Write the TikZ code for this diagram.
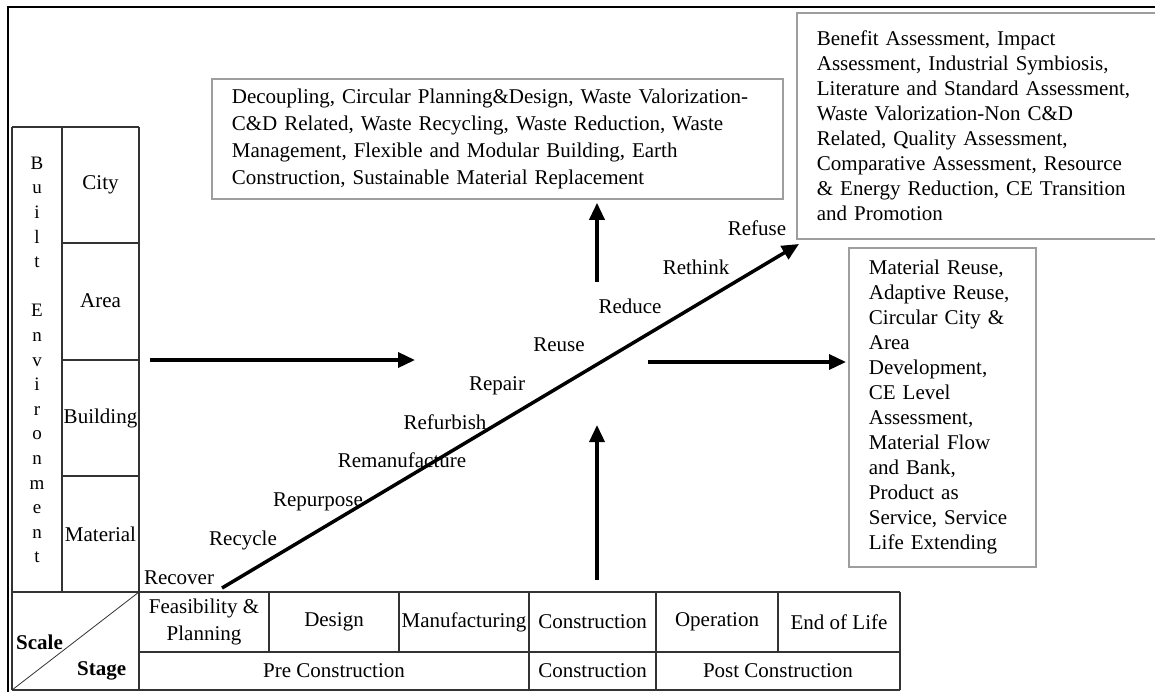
\documentclass[tikz,border=0pt]{standalone}
\usepackage{fontspec}
\setmainfont{Liberation Serif}
\usetikzlibrary{arrows.meta}
\begin{document}
\begin{tikzpicture}[x=1pt,y=-1pt,
  every node/.style={font=\fontsize{21}{25}\selectfont, inner sep=0pt},
  tline/.style={draw=black!80, line width=1.3pt},
  gbox/.style={draw=black!38, line width=1.8pt, fill=white, align=left, inner xsep=20pt, anchor=north west},
  bigarrow/.style={line width=3.5pt, -{Triangle[length=17pt,width=15pt]}},
  rlab/.style={anchor=base},
  cell/.style={anchor=center, align=center},
  bold/.style={font=\fontsize{21}{25}\selectfont\bfseries, anchor=base west}
]
\useasboundingbox (0,0) rectangle (1155,691);
\clip (0,0) rectangle (1155,691);
\fill[white] (0,0) rectangle (1155,691);
% outer frame
\draw[line width=2.5pt] (8,700) -- (8,7) -- (1170,7);

% left table
\draw[tline] (12,127) -- (139,127);
\draw[tline] (12,127) -- (12,690);
\draw[tline] (62,127) -- (62,592);
\draw[tline] (139,127) -- (139,690);
\draw[tline] (62,243) -- (139,243);
\draw[tline] (62,360) -- (139,360);
\draw[tline] (62,476) -- (139,476);
% bottom table
\draw[tline] (12,592) -- (900,592);
\draw[tline] (139,652) -- (900,652);
\draw[tline] (12,690) -- (900,690);
\draw[tline] (269,592) -- (269,652);
\draw[tline] (399,592) -- (399,652);
\draw[tline] (529,592) -- (529,690);
\draw[tline] (656,592) -- (656,690);
\draw[tline] (778,592) -- (778,652);
\draw[tline] (900,592) -- (900,690);
\draw[draw=black!80, line width=0.8pt] (12,690) -- (139,592);

% left table texts
\node[cell, font=\fontsize{19}{24.6}\selectfont] (built) at (37,360)
  {B\\u\\i\\l\\t\\\mbox{}\\E\\n\\v\\i\\r\\o\\n\\m\\e\\n\\t};
\node[cell] (city) at (100.5,185) {City};
\node[cell] (area) at (100.5,301) {Area};
\node[cell] (bldg) at (100.5,418) {Building};
\node[cell] (matl) at (100.5,534) {Material};
\node[bold] (scale) at (16,649) {Scale};
\node[bold] (stage) at (77,675) {Stage};

% bottom table texts
\node[cell, font=\fontsize{21}{27}\selectfont] (feas) at (204,622) {Feasibility \&\\Planning};
\node[cell] (design) at (334,622) {Design};
\node[cell] (manu) at (464,622) {Manufacturing};
\node[cell] (constr) at (592.5,622) {Construction};
\node[cell] (oper) at (717,622) {Operation};
\node[cell] (eol) at (839,622) {End of Life};
\node[cell] (pre) at (334,671) {Pre Construction};
\node[cell] (constr2) at (592.5,671) {Construction};
\node[cell] (post) at (778,671) {Post Construction};

% boxes
\node[gbox, font=\fontsize{21}{27}\selectfont, text width=531pt, minimum height=120pt] (dec) at (211,78)
  {Decoupling, Circular Planning\&Design, Waste Valorization-\\
   C\&D Related, Waste Recycling, Waste Reduction, Waste\\
   Management, Flexible and Modular Building, Earth\\
   Construction, Sustainable Material Replacement};
\node[gbox, text width=339pt, minimum height=226pt] (ben) at (796,12)
  {Benefit Assessment, Impact\\
   Assessment, Industrial Symbiosis,\\
   Literature and Standard Assessment,\\
   Waste Valorization-Non C\&D\\
   Related, Quality Assessment,\\
   Comparative Assessment, Resource\\
   \& Energy Reduction, CE Transition\\
   and Promotion};
\node[gbox, text width=147pt, minimum height=319pt] (mat) at (848,247)
  {Material Reuse,\\
   Adaptive Reuse,\\
   Circular City \&\\
   Area\\
   Development,\\
   CE Level\\
   Assessment,\\
   Material Flow\\
   and Bank,\\
   Product as\\
   Service, Service\\
   Life Extending};

% diagonal labels
\node[rlab] (recover) at (179,584) {Recover};
\node[rlab] (recycle) at (243,545) {Recycle};
\node[rlab] (repurpose) at (318,506) {Repurpose};
\node[rlab] (reman) at (402,467) {Remanufacture};
\node[rlab] (refurb) at (445,429) {Refurbish};
\node[rlab] (repair) at (497,390) {Repair};
\node[rlab] (reuse) at (559,351) {Reuse};
\node[rlab] (reduce) at (630,313) {Reduce};
\node[rlab] (rethink) at (696,274) {Rethink};
\node[rlab] (refuse) at (757,235) {Refuse};

% arrows
\coordinate (dstart) at (222,588);
\coordinate (dend) at (799,244);
\draw[bigarrow] (dstart) -- (dend);
\coordinate (hl1) at (150,360);
\coordinate (hl2) at (415,360);
\draw[bigarrow] (hl1) -- (hl2);
\coordinate (hr1) at (648,362);
\draw[bigarrow, shorten >=2pt] (hr1) -- (mat.west |- hr1);
\coordinate (u1) at (597,282);
\draw[bigarrow, shorten >=3pt] (u1) -- (u1 |- dec.south);
\coordinate (u2a) at (597,580);
\coordinate (u2b) at (597,425);
\draw[bigarrow] (u2a) -- (u2b);
\end{tikzpicture}
\end{document}
